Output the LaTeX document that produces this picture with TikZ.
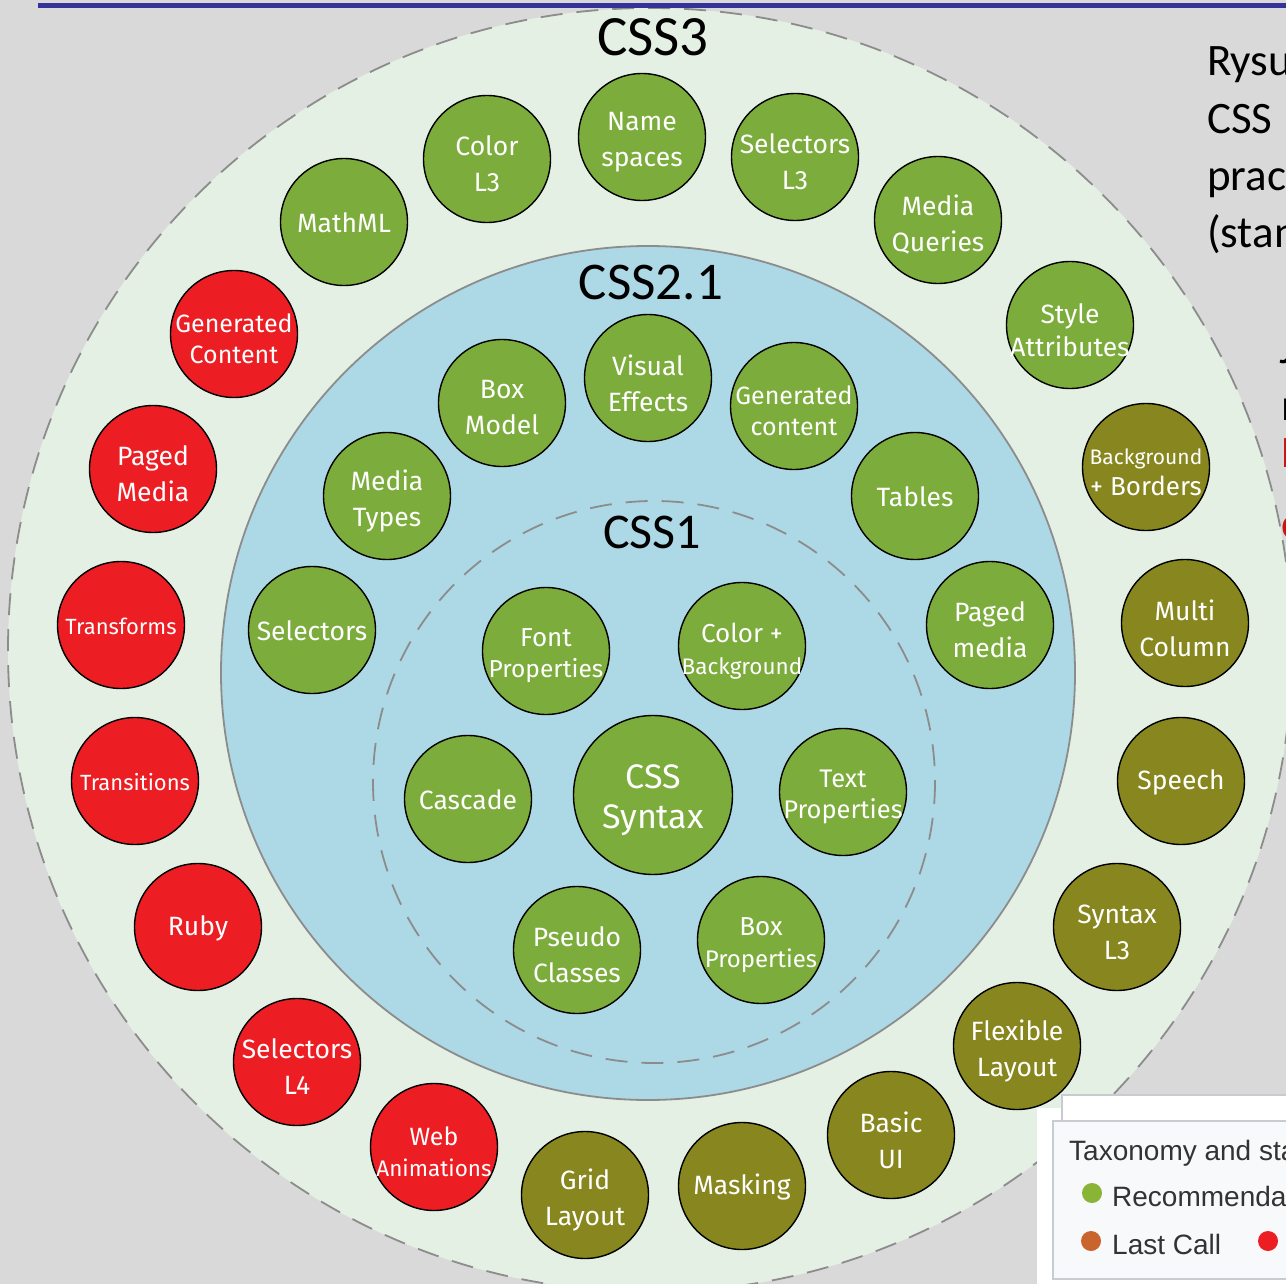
\documentclass[tikz,border=0pt]{standalone}
\usepackage{fontspec}
\setmainfont{Fira Sans}
\newfontfamily\calib{Carlito}
\newfontfamily\arialf{Liberation Sans}
\definecolor{bggray}{RGB}{217,217,217}
\definecolor{ringfill}{RGB}{228,240,228}
\definecolor{midfill}{RGB}{173,216,230}
\definecolor{gr}{RGB}{124,172,60}
\definecolor{rd}{RGB}{236,30,36}
\definecolor{ol}{RGB}{136,134,30}
\definecolor{topblue}{RGB}{51,51,153}
\definecolor{legfill}{RGB}{248,249,250}
\definecolor{legline}{RGB}{200,204,209}
\definecolor{lcall}{RGB}{200,100,44}
\definecolor{rtred}{RGB}{200,20,20}
\tikzset{
  circ/.style={circle, draw=black, line width=1.4pt, minimum size=127pt, inner sep=0pt},
  g/.style={circ, fill=gr},
  r/.style={circ, fill=rd},
  o/.style={circ, fill=ol},
  lab/.style={text=white, align=center, inner sep=0pt, yshift=-5pt,
    font=\fontsize{26.5}{36}\selectfont},
  lab1/.style={lab, yshift=4pt},
  ring/.style={draw=black!45, line width=1.8pt},
  dashring/.style={ring, dash pattern=on 22pt off 14pt},
  title/.style={font=\calib\fontsize{57}{60}\selectfont, text=black, inner sep=0pt},
  side/.style={font=\calib\fontsize{45}{55}\selectfont, anchor=base west, inner sep=0pt},
  leg/.style={font=\arialf\fontsize{28}{32}\selectfont, anchor=base west, inner sep=0pt, text=black!80},
  dot/.style={circle, inner sep=0pt, minimum size=20pt}
}
\newcommand{\sm}[1]{\fontsize{#1}{#1}\selectfont}
\begin{document}
\begin{tikzpicture}[x=1pt,y=-1pt]
\useasboundingbox (0,0) rectangle (1286,1284);
\clip (0,0) rectangle (1286,1284);
\fill[bggray] (0,0) rectangle (1286,1284);
% right side text
\node[side] (t1) at (1207,76) {Rysunek};
\node[side] (t2) at (1207,134) {CSS};
\node[side] (t3) at (1207,191) {pracy};
\node[side] (t4) at (1207,248) {(stan};
\node[side] (t5) at (1279,363) {J};
\node[side] (t6) at (1281,420) {n};
\node[side, text=rtred] (t7) at (1281,467) {L};
\node[side, text=rtred] (t8) at (1281,538) {c};
% rings
\draw[dashring, fill=ringfill] (650,650) circle[radius=642];
\draw[ring, fill=midfill] (648,673) circle[radius=427];
\draw[dashring] (654,782) circle[radius=281];
% top rule
\draw[topblue, line width=5.5pt] (38,5.5) -- (1300,5.5);
% titles
\node[title] (c3) at (653,37) {CSS3};
\node[title, font=\calib\fontsize{53}{60}\selectfont] (c21) at (651,283) {CSS2.1};
\node[title, font=\calib\fontsize{50}{60}\selectfont] (c1) at (652,532) {CSS1};
% CSS3 ring
\node[g, label={[lab]center:{Name\\spaces}}] (ns) at (642,137) {};
\node[g, label={[lab]center:{Color\\L3}}] (cl3) at (487,159) {};
\node[g, label={[lab]center:{Selectors\\L3}}] (sl3) at (795,157) {};
\node[g, label={[lab1]center:{MathML}}] (mml) at (344,222) {};
\node[g, label={[lab]center:{Media\\Queries}}] (mq) at (938,220) {};
\node[g, label={[lab, font=\fontsize{26.5}{33}\selectfont]center:{Style\\Attributes}}] (sa) at (1070,325) {};
\node[r, label={[lab, font=\fontsize{25}{31}\selectfont]center:{Generated\\Content}}] (gc) at (234,334) {};
\node[o, label={[lab, font=\fontsize{26}{31}\selectfont]center:{{\sm{21}Background}\\+ Borders}}] (bb) at (1146,467) {};
\node[r, label={[lab]center:{Paged\\Media}}] (pm) at (153,469) {};
\node[o, label={[lab]center:{Multi\\Column}}] (mc) at (1185,623) {};
\node[r, label={[lab1, font=\fontsize{22}{28}\selectfont]center:{Transforms}}] (tf) at (121,625) {};
\node[r, label={[lab1, font=\fontsize{22}{28}\selectfont]center:{Transitions}}] (tr) at (135,781) {};
\node[o, label={[lab1]center:{Speech}}] (sp) at (1181,781) {};
\node[r, label={[lab1]center:{Ruby}}] (rb) at (198,927) {};
\node[o, label={[lab]center:{Syntax\\L3}}] (sx) at (1117,927) {};
\node[r, label={[lab]center:{Selectors\\L4}}] (sl4) at (297,1062) {};
\node[o, label={[lab]center:{Flexible\\Layout}}] (fl) at (1017,1046) {};
\node[r, label={[lab, font=\fontsize{25}{31}\selectfont]center:{Web\\{\sm{22.5}Animations}}}] (wa) at (434,1147) {};
\node[o, label={[lab]center:{Basic\\UI}}] (bui) at (891,1135) {};
\node[o, label={[lab]center:{Grid\\Layout}}] (gl) at (585,1195) {};
\node[o, label={[lab1]center:{Masking}}] (mk) at (742,1186) {};
% CSS2.1 ring
\node[g, label={[lab]center:{Visual\\Effects}}] (ve) at (648,378) {};
\node[g, label={[lab]center:{Box\\Model}}] (bm) at (502,403) {};
\node[g, label={[lab, font=\fontsize{25}{31}\selectfont]center:{Generated\\content}}] (gc2) at (794,406) {};
\node[g, label={[lab]center:{Media\\Types}}] (mt) at (387,496) {};
\node[g, label={[lab1]center:{Tables}}] (tb) at (915,496) {};
\node[g, label={[lab1]center:{Selectors}}] (sel) at (312,630) {};
\node[g, label={[lab]center:{Paged\\media}}] (pm2) at (990,625) {};
% CSS1
\node[g, label={[lab, font=\fontsize{24.5}{31}\selectfont]center:{{\sm{26}Font}\\Properties}}] (fp) at (546,651) {};
\node[g, label={[lab, font=\fontsize{26}{32}\selectfont]center:{Color +\\{\sm{22.5}Background}}}] (cb) at (742,646) {};
\node[g, label={[lab1]center:{Cascade}}] (cas) at (468,799) {};
\node[g, minimum size=159pt, label={[lab, font=\fontsize{34}{40}\selectfont]center:{CSS\\Syntax}}] (syn) at (653,795) {};
\node[g, label={[lab, font=\fontsize{25.5}{31}\selectfont]center:{Text\\Properties}}] (tp) at (843,792) {};
\node[g, label={[lab]center:{Pseudo\\Classes}}] (pc) at (577,950) {};
\node[g, label={[lab, font=\fontsize{24}{32}\selectfont]center:{{\sm{26}Box}\\Properties}}] (bp) at (761,940) {};
% legend
\fill[white] (1037,1108) rectangle (1290,1290);
\draw[legline, line width=1.5pt, fill=white] (1062,1095) rectangle (1295,1121);
\draw[legline, line width=1.5pt, fill=legfill] (1053,1121) rectangle (1295,1279);
\node[leg] (lt) at (1069,1160) {Taxonomy and status};
\node[dot, fill=gr!90!yellow] (d1) at (1092,1193) {};
\node[leg] (l1) at (1112,1206) {Recommendation};
\node[dot, fill=lcall] (d2) at (1091,1241) {};
\node[leg] (l2) at (1112,1254) {Last Call};
\node[dot, fill=rd] (d3) at (1268,1241) {};
\end{tikzpicture}
\end{document}
